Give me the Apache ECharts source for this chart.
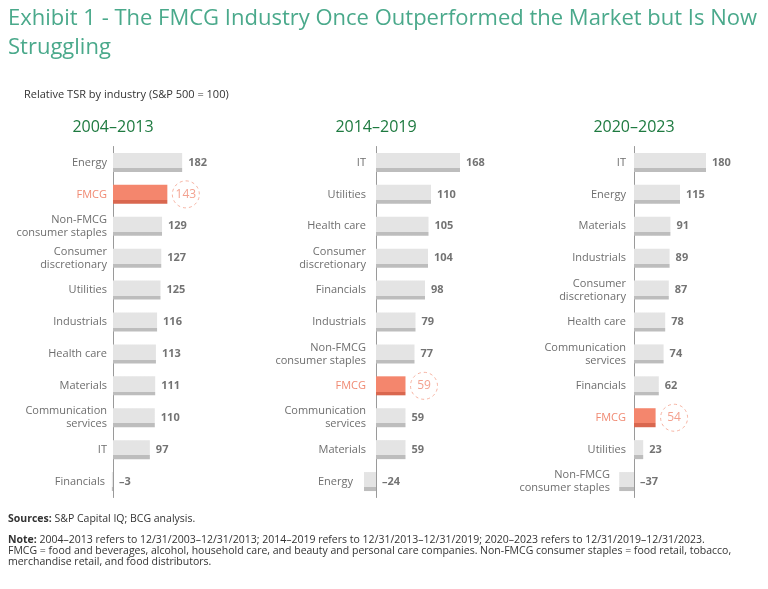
<!DOCTYPE html>
<html>
<head>
<meta charset="utf-8">
<script src="https://cdn.jsdelivr.net/npm/echarts@6/dist/echarts.min.js"></script>
<style>
html,body{margin:0;padding:0;background:#fff;}
#chart{width:768px;height:589px;}
</style>
</head>
<body>
<div id="chart"></div>
<script>
var periods = ['2004–2013', '2014–2019', '2020–2023'];

var cats1 = ['Energy', 'FMCG', 'Non-FMCG\nconsumer staples', 'Consumer\ndiscretionary', 'Utilities', 'Industrials', 'Health care', 'Materials', 'Communication\nservices', 'IT', 'Financials'];
var vals1 = [182, 143, 129, 127, 125, 116, 113, 111, 110, 97, -3];

var cats2 = ['IT', 'Utilities', 'Health care', 'Consumer\ndiscretionary', 'Financials', 'Industrials', 'Non-FMCG\nconsumer staples', 'FMCG', 'Communication\nservices', 'Materials', 'Energy'];
var vals2 = [168, 110, 105, 104, 98, 79, 77, 59, 59, 59, -24];

var cats3 = ['IT', 'Energy', 'Materials', 'Industrials', 'Consumer\ndiscretionary', 'Health care', 'Communication\nservices', 'Financials', 'FMCG', 'Utilities', 'Non-FMCG\nconsumer staples'];
var vals3 = [180, 115, 91, 89, 87, 78, 74, 62, 54, 23, -37];

var highlight = 'FMCG';

var FONT = '"Open Sans", "Noto Sans", sans-serif';
var chart = echarts.init(document.getElementById('chart'));

function grad(top, bottom) {
  return {
    type: 'linear', x: 0, y: 0, x2: 0, y2: 1,
    colorStops: [
      {offset: 0, color: top}, {offset: 0.8, color: top},
      {offset: 0.8, color: bottom}, {offset: 1, color: bottom}
    ]
  };
}
var grayFill = grad('#e4e4e4', '#bdbdbd');
var hiFill = grad('#f4866d', '#d9674f');

var panels = [
  {cats: cats1, vals: vals1, min: -20, max: 200, scale: 0.38, zero: 113, gap: 6},
  {cats: cats2, vals: vals2, min: -40, max: 200, scale: 0.5, zero: 376, gap: 10},
  {cats: cats3, vals: vals3, min: -50, max: 200, scale: 0.4, zero: 634, gap: 8}
];

var grids = [], xAxes = [], yAxes = [], series = [], graphics = [];
function fmt(v) { return v < 0 ? '–' + Math.abs(v) : String(v); }

panels.forEach(function (p, k) {
  var off = -p.min * p.scale;
  grids.push({
    left: p.zero - off,
    width: (p.max - p.min) * p.scale,
    top: 146.5, height: 351, containLabel: false
  });
  xAxes.push({
    type: 'value', gridIndex: k, min: p.min, max: p.max,
    show: false, splitLine: {show: false}
  });
  var rich = {};
  p.cats.forEach(function (c, i) {
    var pad = p.vals[i] < 0 ? Math.round(Math.abs(p.vals[i]) * p.scale + 1) : 0;
    rich['r' + i] = {
      fontFamily: FONT, fontSize: 11, lineHeight: 13, align: 'right',
      color: c === highlight ? '#f08a73' : '#6e6e6e',
      padding: [0, pad, 0, 0]
    };
  });
  yAxes.push({
    type: 'category', gridIndex: k, inverse: true, data: p.cats,
    axisLine: {show: true, onZero: true, lineStyle: {color: '#9a9a9a', width: 1}},
    axisTick: {show: false},
    axisLabel: {
      margin: p.gap - off, align: 'right',
      fontFamily: FONT, fontSize: 11, lineHeight: 13,
      formatter: function (v, i) {
        return v.split('\n').map(function (s) { return '{r' + i + '|' + s + '}'; }).join('\n');
      },
      rich: rich
    }
  });
  series.push({
    type: 'bar', xAxisIndex: k, yAxisIndex: k, barWidth: 19,
    silent: true, animation: false,
    data: p.vals.map(function (v, i) {
      return {value: v, itemStyle: {color: p.cats[i] === highlight ? hiFill : grayFill}};
    })
  });
  series.push({
    type: 'scatter', xAxisIndex: k, yAxisIndex: k, symbolSize: 0,
    silent: true, animation: false,
    data: p.vals.map(function (v, i) {
      var isHi = p.cats[i] === highlight;
      return {
        value: [Math.max(v, 0), i],
        label: {
          show: true, position: 'right', distance: isHi ? 5 : 6,
          formatter: isHi ? '{c|' + fmt(v) + '}' : '{v|' + fmt(v) + '}',
          rich: {
            v: {fontFamily: FONT, fontSize: 11, fontWeight: 'bold', color: '#505050'},
            c: {
              fontFamily: FONT, fontSize: 12, color: '#f08a73',
              width: 27, height: 27, lineHeight: 27, align: 'center',
              borderColor: '#f4a08c', borderWidth: 1, borderType: [3, 3],
              borderRadius: 14
            }
          }
        }
      };
    })
  });
  graphics.push({
    type: 'text', x: p.zero, y: 127,
    style: {
      text: periods[k], fill: '#1e7a40', font: '16px ' + FONT,
      textAlign: 'center', textVerticalAlign: 'middle'
    }
  });
});

graphics.push({
  type: 'text', x: 8, y: 4,
  style: {
    text: 'Exhibit 1 - The FMCG Industry Once Outperformed the Market but Is Now\nStruggling',
    fill: '#4aa98b', font: '22px ' + FONT, lineHeight: 29
  }
});
graphics.push({
  type: 'text', x: 24, y: 95,
  style: {
    text: 'Relative TSR by industry (S&P 500 = 100)',
    fill: '#333333', font: '11px ' + FONT, textVerticalAlign: 'middle'
  }
});
graphics.push({
  type: 'text', x: 8, y: 514,
  style: {
    text: '{b|Sources:} S&P Capital IQ; BCG analysis.',
    fill: '#333333', font: '10.5px ' + FONT,
    rich: {b: {fontWeight: 'bold', fontFamily: FONT, fontSize: 10.5, fill: '#333333'}}
  }
});
graphics.push({
  type: 'text', x: 8, y: 535,
  style: {
    text: '{b|Note:} 2004–2013 refers to 12/31/2003–12/31/2013; 2014–2019 refers to 12/31/2013–12/31/2019; 2020–2023 refers to 12/31/2019–12/31/2023.\nFMCG = food and beverages, alcohol, household care, and beauty and personal care companies. Non-FMCG consumer staples = food retail, tobacco,\nmerchandise retail, and food distributors.',
    fill: '#333333', font: '10.5px ' + FONT, lineHeight: 11,
    rich: {b: {fontWeight: 'bold', fontFamily: FONT, fontSize: 10.5, fill: '#333333', lineHeight: 11}}
  }
});

chart.setOption({
  animation: false,
  grid: grids, xAxis: xAxes, yAxis: yAxes, series: series,
  graphic: graphics
});
</script>
</body>
</html>
